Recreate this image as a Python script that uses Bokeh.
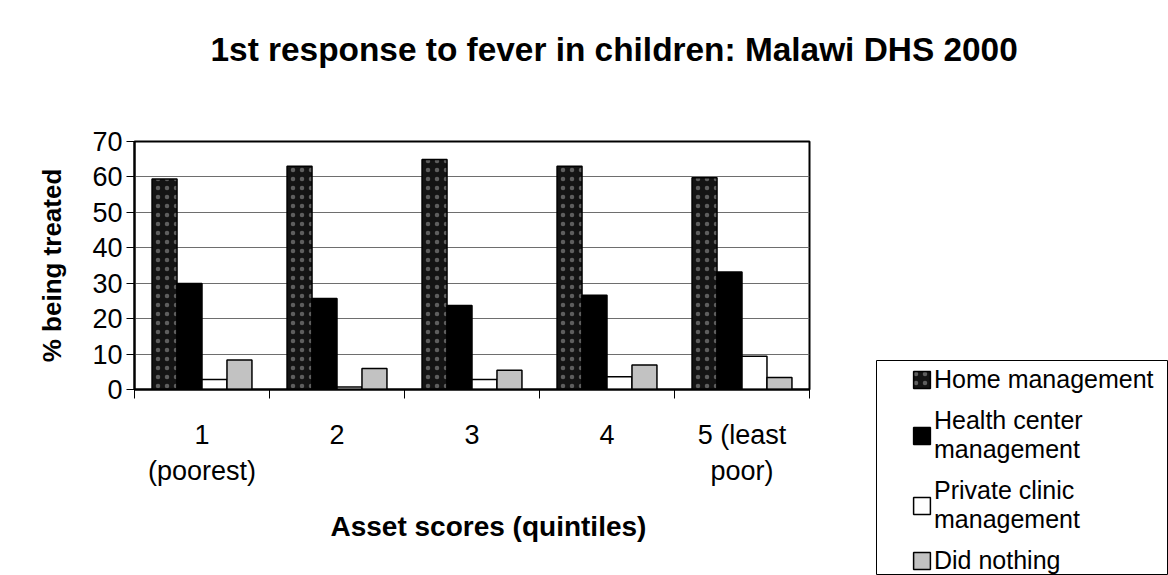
from bokeh.plotting import figure
from bokeh.layouts import column, row
from bokeh.models import (Range1d, LinearAxis, FixedTicker, Spacer,
                          Legend, LegendItem, Title, ColumnDataSource, Grid)
from bokeh.transform import dodge
from bokeh.embed import file_html
from bokeh.resources import INLINE

# ---- data ----
categories = ["1\n(poorest)", "2", "3", "4", "5 (least\npoor)"]
home_management = [59.4, 63.0, 64.9, 63.0, 59.8]
health_center_management = [29.9, 25.7, 23.7, 26.6, 33.2]
private_clinic_management = [2.8, 0.7, 2.8, 3.6, 9.4]
did_nothing = [8.3, 5.9, 5.4, 6.9, 3.4]
series_labels = ["Home management", "Health center\nmanagement",
                 "Private clinic\nmanagement", "Did nothing"]
y_ticks = [0, 10, 20, 30, 40, 50, 60, 70]
title_text = "1st response to fever in children: Malawi DHS 2000"

FONT = "Liberation Sans"

n = len(categories)
centers = [i + 0.5 for i in range(n)]          # category slot centres
edges = list(range(n + 1))                      # category slot boundaries

source = ColumnDataSource(dict(
    xc=centers,
    home=home_management,
    health=health_center_management,
    private=private_clinic_management,
    nothing=did_nothing,
))

# ---- title strip ----
head = figure(
    width=1168, height=120,
    output_backend="svg", toolbar_location=None,
    x_axis_type=None, y_axis_type=None,
    min_border_left=0, min_border_right=0, min_border_top=0, min_border_bottom=0,
    background_fill_color="white", border_fill_color="white",
)
head.outline_line_color = None
head.title.text = title_text
head.title.text_font = FONT
head.title.text_font_size = "33.4px"
head.title.text_font_style = "bold"
head.title.text_color = "black"
head.title.align = "left"
head.title.offset = 210
head.title.standoff = 57

# ---- main chart ----
p = figure(
    x_range=Range1d(0, n),
    y_range=Range1d(y_ticks[0], y_ticks[-1]),
    width=876, height=455,
    output_backend="svg", toolbar_location=None,
    x_axis_type=None, y_axis_type=None,
    min_border_left=134, min_border_right=67,
    min_border_top=21, min_border_bottom=186,
    background_fill_color="white", border_fill_color="white",
)
p.outline_line_color = "black"
p.outline_line_width = 2

# y axis
y_axis = LinearAxis(
    ticker=FixedTicker(ticks=y_ticks),
    axis_label="% being treated",
    axis_label_text_font=FONT, axis_label_text_font_size="26px",
    axis_label_text_font_style="bold", axis_label_text_color="black",
    axis_label_standoff=22,
    major_label_text_font=FONT, major_label_text_font_size="27px",
    major_label_text_color="black", major_label_standoff=4,
    major_tick_out=8, major_tick_in=0, major_tick_line_color="black",
    axis_line_color="black", axis_line_width=2,
    minor_tick_line_color=None,
)
p.add_layout(y_axis, "left")
p.add_layout(Grid(dimension=1, ticker=y_axis.ticker,
                  grid_line_color="#6e6e6e", grid_line_width=1))

# x axis: labels at slot centres, tick marks at slot boundaries
x_axis = LinearAxis(
    ticker=FixedTicker(ticks=centers, minor_ticks=edges),
    major_label_overrides={c: lab for c, lab in zip(centers, categories)},
    major_label_text_font=FONT, major_label_text_font_size="27px",
    major_label_text_color="black", major_label_standoff=21,
    major_label_text_line_height=1.2,
    major_tick_line_color=None, major_tick_out=0, major_tick_in=0,
    minor_tick_line_color="black", minor_tick_out=9, minor_tick_in=0,
    minor_tick_line_width=1,
    axis_line_color="black", axis_line_width=2,
)
p.add_layout(x_axis, "below")

p.add_layout(Title(text="Asset scores (quintiles)", align="left", offset=196,
                   text_font=FONT, text_font_size="28px", text_font_style="bold",
                   text_color="black", standoff=40), "below")

# bars
bar_w = 0.185
cols = ["home", "health", "private", "nothing"]
fills = ["#141414", "#000000", "#ffffff", "#c2c2c2"]
styles = []
for j, (col, fc) in enumerate(zip(cols, fills)):
    kw = dict(fill_color=fc, line_color="black", line_width=1.5)
    if col == "home":
        kw.update(hatch_pattern="dot", hatch_color="#5e5e5e", hatch_scale=9, hatch_weight=1)
    styles.append(kw)
    p.vbar(x=dodge("xc", (j - 1.5) * bar_w), top=col, width=bar_w,
           bottom=0, source=source, **kw)

# ---- legend box (lower right corner) ----
leg = figure(
    width=292, height=215,
    x_range=Range1d(0, 1), y_range=Range1d(0, 1),
    output_backend="svg", toolbar_location=None,
    x_axis_type=None, y_axis_type=None,
    min_border=0, min_border_left=0, min_border_right=0,
    min_border_top=0, min_border_bottom=0,
    background_fill_color="white", border_fill_color="white",
)
leg.outline_line_color = "black"
leg.outline_line_width = 1

leg_renderers = []
for j, (col, kw) in enumerate(zip(cols, styles)):
    r = leg.vbar(x=dodge("xc", (j - 1.5) * bar_w), top=col, width=bar_w,
                 bottom=0, source=source, visible=False, **kw)
    leg_renderers.append(r)

legend = Legend(
    items=[LegendItem(label=lab, renderers=[r]) for lab, r in zip(series_labels, leg_renderers)],
    location=(35, 0),
    label_text_font=FONT, label_text_font_size="25px", label_text_color="black",
    glyph_width=21, glyph_height=21, label_standoff=2,
    spacing=12, padding=0, margin=0,
    border_line_color=None, background_fill_alpha=0,
    inactive_fill_alpha=0,
)
leg.add_layout(legend)

layout = column(
    head,
    row(p, column(Spacer(width=292, height=240), leg)),
)

open("out.html", "w").write(file_html(layout, INLINE))
